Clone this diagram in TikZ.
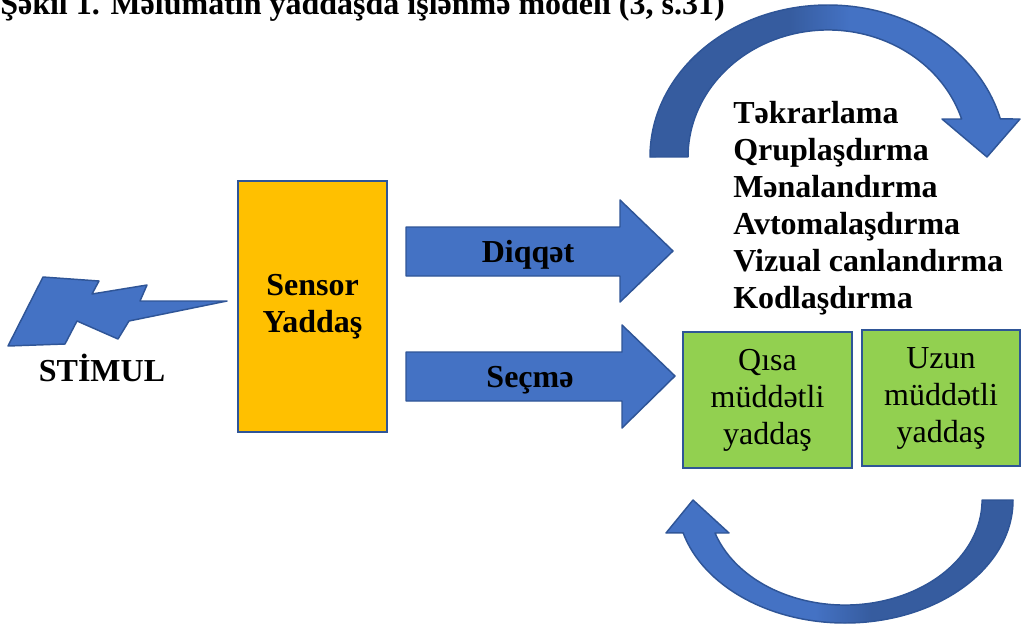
\documentclass[tikz,border=0pt]{standalone}
\usepackage{fontspec}
\setmainfont{Liberation Serif}
\definecolor{arrowblue}{HTML}{4472C4}
\definecolor{edgeblue}{HTML}{2F5597}
\definecolor{shadeblue}{HTML}{365C9F}
\definecolor{sensorgold}{HTML}{FFC000}
\definecolor{memgreen}{HTML}{92D050}

\begin{document}
\begin{tikzpicture}[x=0.75pt,y=-0.75pt,
        every node/.append style={inner sep=0pt}]
      \tikzstyle{word} = [font=\fontsize{24}{27.75}\selectfont\bfseries,text=black,align=center]
      \tikzstyle{plain} = [font=\fontsize{24}{27.75}\selectfont,text=black,align=center]
      \tikzstyle{blockfill} = [fill=arrowblue,draw=edgeblue,line width=1.1pt,line join=round]
      \tikzstyle{box} = [draw=edgeblue,line width=1.5pt]
      \useasboundingbox (0,0) rectangle (1023,625);
      \clip (0,0) rectangle (1023,625);
      \node (title) [word,anchor=base west] at (0,14) {Şəkil 1. Məlumatın yaddaşda işlənmə modeli (3, s.31)};
      % stimul
      \draw[blockfill] (43,277) -- (99,281) -- (92,294) -- (147,285) -- (140,301) -- (227,301)
        -- (129,321) -- (118,339) -- (77,321) -- (65,344) -- (8,346) -- cycle;
      \node (stimul) [word,anchor=base] at (102,381) {STİMUL};
      \node (sensor) [box,word,fill=sensorgold,minimum width=111.75pt,minimum height=188.25pt]
        at (312.5,306.5) {Sensor\\Yaddaş};
      % block arrows
      \draw[blockfill] (406,227) -- (620,227) -- (620,200) -- (673,251) -- (620,302) -- (620,276) -- (406,276) -- cycle;
      \draw[blockfill] (406,352) -- (622,352) -- (622,325) -- (675,376) -- (622,428) -- (622,401) -- (406,401) -- cycle;
      \node (diqqet) [word,anchor=base] at (528,262) {Diqqət};
      \node (secme) [word,anchor=base] at (530,387) {Seçmə};
      \node (qisa) [box,plain,fill=memgreen,minimum width=126.75pt,minimum height=102pt]
        at (767.5,400) {Qısa\\müddətli\\yaddaş};
      \node (uzun) [box,plain,fill=memgreen,minimum width=118.5pt,minimum height=102pt]
        at (941,398) {Uzun\\müddətli\\yaddaş};
      \foreach \w [count=\i] in {Təkrarlama,Qruplaşdırma,Mənalandırma,Avtomalaşdırma,Vizual canlandırma,Kodlaşdırma}
        \node (proc\i) [word,anchor=base west] at (733,{123+37*(\i-1)}) {\w};
      % curved arrows
      \draw[blockfill,path picture={
          \fill[shadeblue] (600,0) rectangle (790,170);
          \shade[left color=shadeblue,right color=arrowblue] (789,0) rectangle (850,170);}]
        (650,157) arc[start angle=180,end angle=345.5,x radius=178,y radius=152]
        -- (1020,119) -- (987,157) -- (942,119) -- (961.6,119)
        arc[start angle=342.6,end angle=180,x radius=140,y radius=127] -- cycle;
      \draw[blockfill,path picture={
          \fill[shadeblue] (870,480) rectangle (1030,630);
          \shade[left color=arrowblue,right color=shadeblue] (815,480) rectangle (871,630);}]
        (1013,500) arc[start angle=0,end angle=164.5,x radius=168,y radius=123]
        -- (666,533) -- (693,500) -- (729,533) -- (715,533)
        arc[start angle=161.7,end angle=0,x radius=137,y radius=105] -- cycle;
    \end{tikzpicture}
\end{document}
